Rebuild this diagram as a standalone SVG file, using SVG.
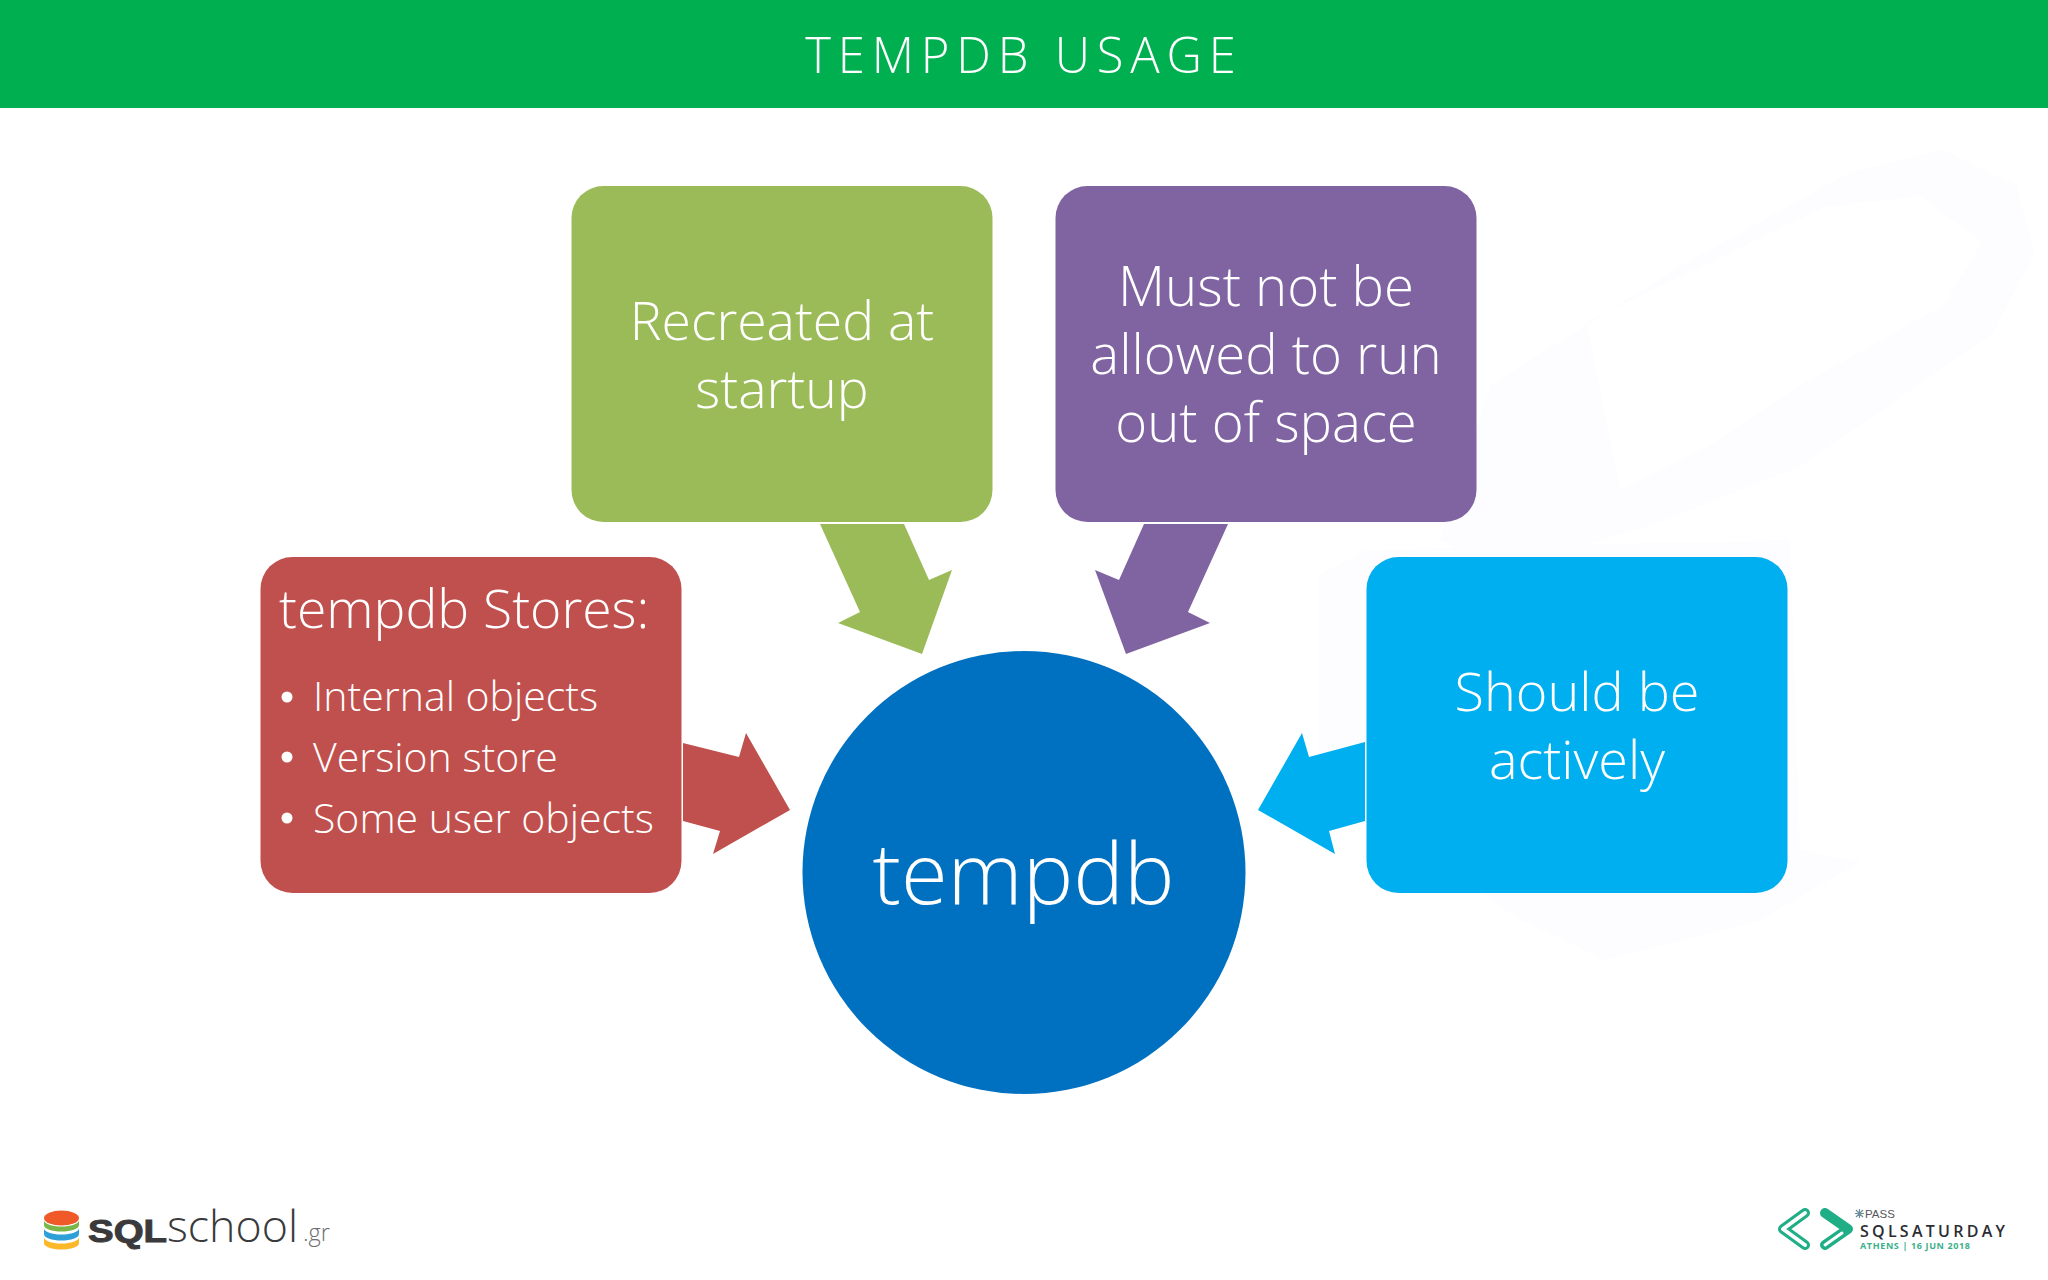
<svg xmlns="http://www.w3.org/2000/svg" width="2048" height="1280" viewBox="0 0 2048 1280">
<style>
text{font-family:"Open Sans","Noto Sans","Liberation Sans",sans-serif;font-weight:300;fill:#fff}
.n{font-size:53.500px;text-anchor:middle}
.n2{font-size:54.500px;text-anchor:middle}
.n3{font-size:54px;text-anchor:middle}
.b{font-size:41px}
.dot{fill:#fff}
.chev{fill:none;stroke-linecap:round;stroke-linejoin:round}
</style>
<rect width="2048" height="1280" fill="#fff"/>
<g id="watermark" fill="#fdfcfe">
<path fill-rule="evenodd" d="M1491 385L1682 265L1849 173L1944 150L2016 185L2035 253L1992 334L1801 466L1658 523L1500 570L1440 540ZM1586 322L1620 490L1705 448L1801 385L1944 305L1982 242L1920 196L1825 207Z"/>
<path d="M1319 575L1366 550L1790 540L1800 850L1860 862L1760 920L1606 960L1520 920L1319 783Z"/>
</g>
<rect id="header" width="2048" height="108" fill="#00b050"/>
<text id="title" x="1024" y="73" font-size="49" text-anchor="middle" letter-spacing="6.800">TEMPDB USAGE</text>
<g id="connectors">
<polygon fill="#c0504d" points="683,743 739,757 746,733 790,810 713,854 720,831 683,821"/>
<polygon fill="#9bbb59" points="820,524 904,524 929,580 952,570 922,654 838,623 860,612"/>
<polygon fill="#8064a2" points="1144,524 1228,524 1188,612 1210,623 1126,654 1095,570 1119,580"/>
<polygon fill="#00afef" points="1365,742 1309,757 1302,733 1258,810 1335,854 1329,831 1365,821"/>
</g>
<g id="node-stores">
<rect x="260.500" y="557" width="421" height="336" rx="32" fill="#c0504d"/>
<text x="279" y="628" font-size="53.500">tempdb Stores:</text>
<circle class="dot" cx="287" cy="697" r="5.500"/><text class="b" x="313" y="710.500">Internal objects</text>
<circle class="dot" cx="287" cy="757" r="5.500"/><text class="b" x="313" y="771.500">Version store</text>
<circle class="dot" cx="287" cy="818" r="5.500"/><text class="b" x="313" y="832.500">Some user objects</text>
</g>
<g id="node-recreated">
<rect x="571.500" y="186" width="421" height="336" rx="32" fill="#9bbb59"/>
<text class="n" x="782" y="340">Recreated at</text>
<text class="n" x="782" y="408">startup</text>
</g>
<g id="node-space">
<rect x="1055.500" y="186" width="421" height="336" rx="32" fill="#8064a2"/>
<text class="n2" x="1266" y="306">Must not be</text>
<text class="n2" x="1266" y="374">allowed to run</text>
<text class="n2" x="1266" y="442">out of space</text>
</g>
<g id="node-actively">
<rect x="1366.500" y="557" width="421" height="336" rx="32" fill="#00afef"/>
<text class="n3" x="1577" y="710.500">Should be</text>
<text class="n3" x="1577" y="778.500">actively</text>
</g>
<g id="node-tempdb">
<circle cx="1024" cy="872.500" r="221.500" fill="#0070c0"/>
<text x="1023.500" y="904" font-size="85" text-anchor="middle">tempdb</text>
</g>
<g id="logo-sqlschool">
<path d="M44 1237v6c0 4 8 6.500 17.500 6.500s17.500-2.500 17.500-6.500v-6c0 4-8 6.500-17.500 6.500s-17.500-2.500-17.500-6.500z" fill="#fbb82b"/>
<path d="M44 1228v6c0 4 8 6.500 17.500 6.500s17.500-2.500 17.500-6.500v-6c0 4-8 6.500-17.500 6.500s-17.500-2.500-17.500-6.500z" fill="#2f9fd8"/>
<path d="M44 1220v5c0 4 8 6.500 17.500 6.500s17.500-2.500 17.500-6.500v-5c0 4-8 6.500-17.500 6.500s-17.500-2.500-17.500-6.500z" fill="#7ab648"/>
<ellipse cx="61.500" cy="1218" rx="17.500" ry="7.500" fill="#ef5a28"/>
<text x="88" y="1242" font-size="32" textLength="79" lengthAdjust="spacingAndGlyphs" style="font-family:'Liberation Sans',sans-serif;font-weight:700;fill:#3a3a3c;stroke:#3a3a3c;stroke-width:1">SQL</text>
<text x="167" y="1242" font-size="45" textLength="131" lengthAdjust="spacingAndGlyphs" style="font-weight:300;fill:#3a3a3c">school</text>
<text x="303" y="1241" font-size="24" textLength="27" lengthAdjust="spacingAndGlyphs" style="font-weight:300;fill:#6d6e70">.gr</text>
</g>
<g id="logo-sqlsaturday">
<path class="chev" d="M1805 1213L1783 1229L1805 1245" stroke="#1fae86" stroke-width="10"/>
<path class="chev" d="M1805 1213L1783 1229L1805 1245" stroke="#fff" stroke-width="4"/>
<path class="chev" d="M1825 1213L1848 1229L1825 1245" stroke="#1fae86" stroke-width="10"/>
<path class="chev" d="M1825 1245L1842 1233" stroke="#fff" stroke-width="3"/>
<path d="M1856 1210l7 7M1863 1210l-7 7M1859.500 1209v9M1855 1213.500h9" stroke="#6c8f9a" stroke-width="1.200" fill="none"/>
<text x="1865" y="1218" font-size="11.500" style="font-family:'Liberation Sans',sans-serif;font-weight:400;fill:#55575a">PASS</text>
<text x="1860" y="1237" font-size="16" textLength="145" style="font-weight:600;fill:#2b2d33">SQLSATURDAY</text>
<text x="1860" y="1249" font-size="9" textLength="110" style="font-weight:700;fill:#3cb08a">ATHENS | 16 JUN 2018</text>
</g>
</svg>
